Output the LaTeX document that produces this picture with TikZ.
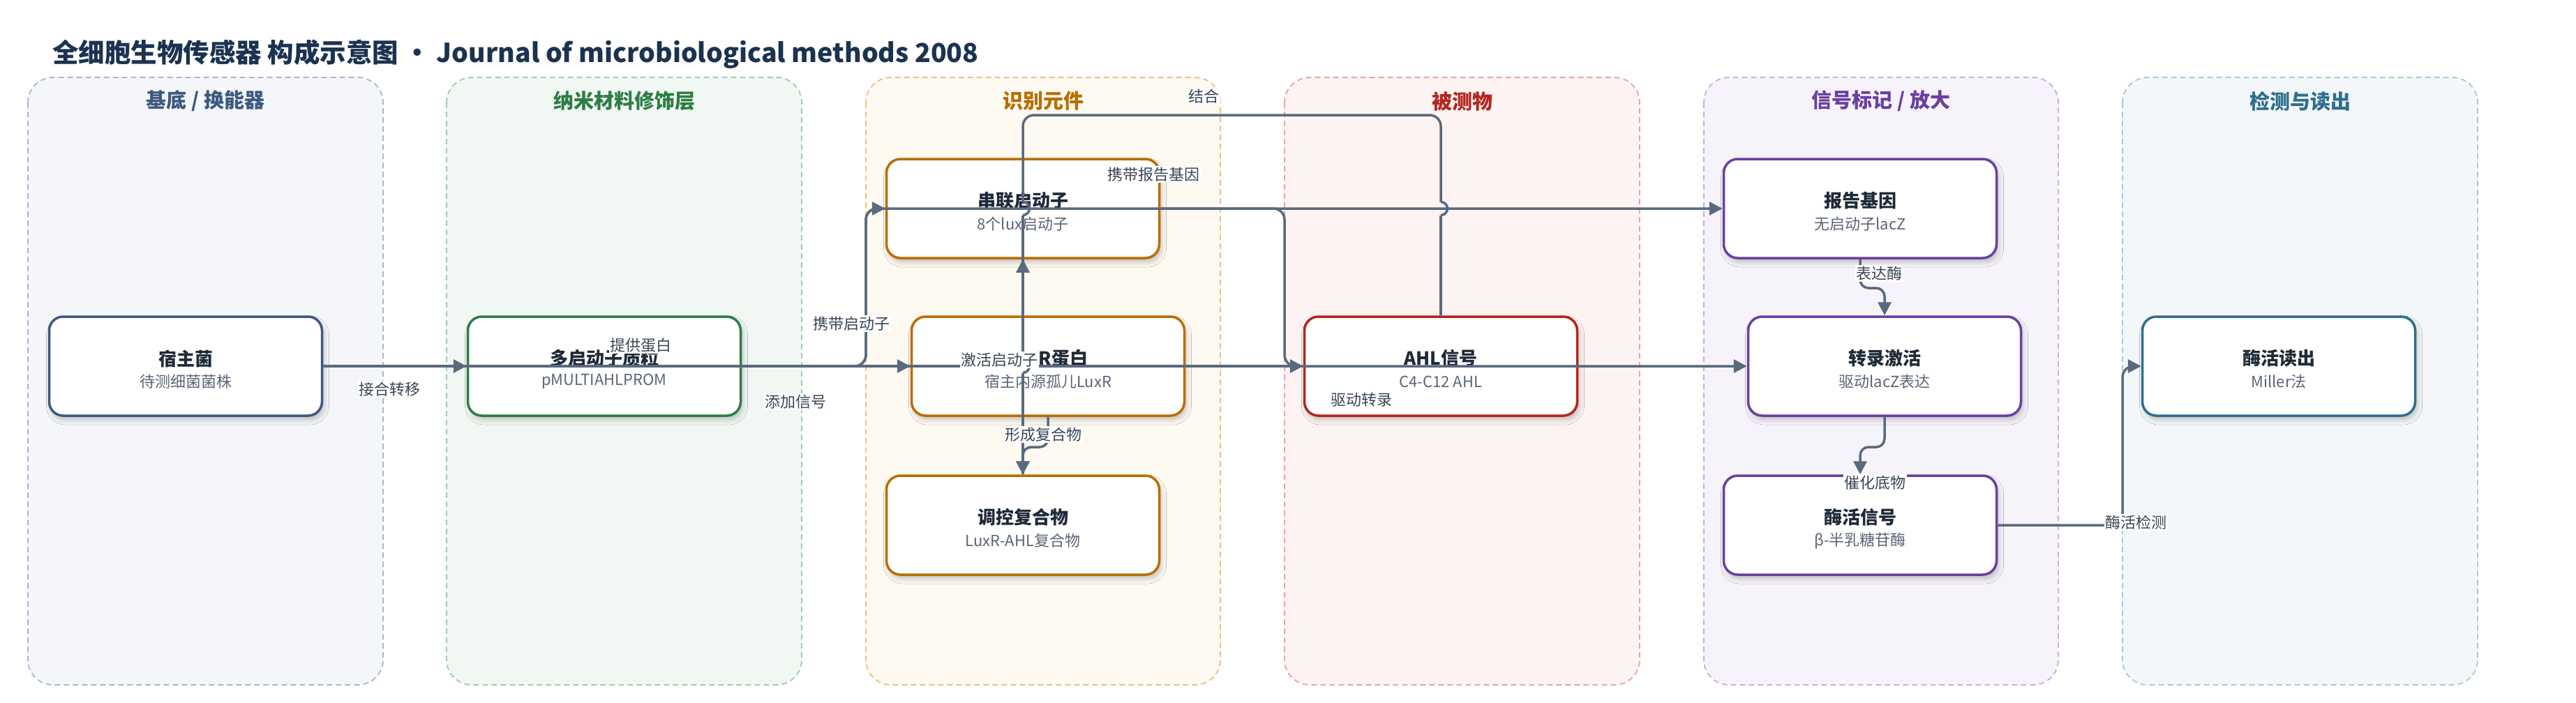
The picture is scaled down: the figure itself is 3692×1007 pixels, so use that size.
\documentclass[tikz,border=0pt]{standalone}
\usepackage{fontspec}
\setmainfont{Noto Sans CJK SC}
\usetikzlibrary{arrows.meta,shadows.blur,calc}

\definecolor{titleink}{HTML}{1B3350}
\definecolor{nodeink}{HTML}{1E2A38}
\definecolor{subink}{HTML}{5B6577}
\definecolor{labink}{HTML}{3A4556}
\definecolor{edgec}{HTML}{5A6A7E}
% lane fills / borders / accent
\definecolor{fA}{HTML}{F4F6FA}\definecolor{bA}{HTML}{A9B6CC}\definecolor{cA}{HTML}{3D5A80}
\definecolor{fB}{HTML}{F1F8F3}\definecolor{bB}{HTML}{9FCBAE}\definecolor{cB}{HTML}{2E7D46}
\definecolor{fC}{HTML}{FEF9F1}\definecolor{bC}{HTML}{EABF85}\definecolor{cC}{HTML}{B86E00}
\definecolor{fD}{HTML}{FDF3F3}\definecolor{bD}{HTML}{E9A3A3}\definecolor{cD}{HTML}{B3261E}
\definecolor{fE}{HTML}{F7F3FB}\definecolor{bE}{HTML}{C8AEE0}\definecolor{cE}{HTML}{6B3FA0}
\definecolor{fF}{HTML}{F3F7F9}\definecolor{bF}{HTML}{A9C8D6}\definecolor{cF}{HTML}{2E6F8E}

\newcommand\mkbox[7][0]{%
  \node[nodebox=#5] (#2) at (#3,#4) {};
  \node[ntitle] (#2T) at ($(#2.center)+(#1,-11)$) {#6};
  \node[nsub] (#2S) at ($(#2.center)+(0,22)$) {#7};
}

\begin{document}
\begin{tikzpicture}[x=1pt,y=-1pt,
  lanebox/.style 2 args={fill=#1, draw=#2, line width=1.8pt, dash pattern=on 8pt off 5pt, rounded corners=36pt},
  lanetitle/.style={font=\bfseries\fontsize{29}{34}\selectfont, text=#1, inner sep=0pt},
  nodebox/.style={draw=#1, fill=white, line width=3.5pt, rounded corners=20pt,
    minimum width=391pt, minimum height=142pt, inner sep=0pt,
    blur shadow={shadow xshift=3pt, shadow yshift=-6pt, shadow blur radius=7pt, shadow opacity=22}},
  ntitle/.style={font=\bfseries\fontsize{26}{30}\selectfont, text=nodeink, inner sep=0pt},
  nsub/.style={font=\fontsize{22}{26}\selectfont, text=subink, inner sep=0pt},
  edge/.style={draw=edgec, line width=3.5pt},
  arr/.style={edge, -{Triangle[length=19pt,width=19pt]}},
  elab/.style={fill=white, inner sep=1.5pt, font=\fontsize{22}{26}\selectfont, text=labink},
]
\fill[white] (0,0) rectangle (3692,1007);
\useasboundingbox (0,0) rectangle (3692,1007);

% title
\node[anchor=base west, inner sep=0pt, text=titleink, font=\bfseries\fontsize{37.5}{42}\selectfont] (title) at (75,89)
  {全细胞生物传感器 构成示意图 • Journal of microbiological methods 2008};

% lanes
\path[lanebox={fA}{bA}] (40,111) rectangle (549,982);
\path[lanebox={fB}{bB}] (640,111) rectangle (1149,982);
\path[lanebox={fC}{bC}] (1241,111) rectangle (1749,982);
\path[lanebox={fD}{bD}] (1841,111) rectangle (2350,982);
\path[lanebox={fE}{bE}] (2442,111) rectangle (2950,982);
\path[lanebox={fF}{bF}] (3042,111) rectangle (3551,982);

\node[lanetitle=cA] (L1) at (294.5,145) {基底 / 换能器};
\node[lanetitle=cB] (L2) at (894.5,145) {纳米材料修饰层};
\node[lanetitle=cC] (L3) at (1495,145) {识别元件};
\node[lanetitle=cD] (L4) at (2095.5,145) {被测物};
\node[lanetitle=cE] (L5) at (2696,145) {信号标记 / 放大};
\node[lanetitle=cF] (L6) at (3296.5,145) {检测与读出};

% nodes
\mkbox{host}{266}{525}{cA}{宿主菌}{待测细菌菌株}
\mkbox{plasmid}{866}{525}{cB}{多启动子质粒}{pMULTIAHLPROM}
\mkbox{tandem}{1466}{299}{cC}{串联启动子}{8个lux启动子}
\mkbox[22]{rprot}{1502}{525}{cC}{R蛋白}{宿主内源孤儿LuxR}
\mkbox{complex}{1466}{753}{cC}{调控复合物}{LuxR-AHL复合物}
\mkbox{ahl}{2065}{525}{cD}{AHL信号}{C4-C12 AHL}
\mkbox{reporter}{2666}{299}{cE}{报告基因}{无启动子lacZ}
\mkbox{transc}{2701}{525}{cE}{转录激活}{驱动lacZ表达}
\mkbox{enzyme}{2666}{753}{cE}{酶活信号}{β-半乳糖苷酶}
\mkbox{readout}{3266}{525}{cF}{酶活读出}{Miller法}

% edges
\draw[arr] (host.east) -- (plasmid.west);
\draw[arr] (host.east) -- (rprot.west);
\draw[arr] (host.east) -- (ahl.west);
\draw[arr, rounded corners=16pt] (plasmid.east) -- (1241,525) -- (1241,299) -- (tandem.west);
\draw[arr, rounded corners=16pt] (plasmid.east) -- (1241,525) -- (1241,299) -- (reporter.west);
\draw[arr, rounded corners=16pt] (tandem.east) -- (1841,299) -- (1841,525) -- (transc.west);

% binding: AHL -> complex, with line jumps
\draw[edge] (ahl.north) -- (2065,308.5);
\draw[edge] (2065,308.5) arc[start angle=-90, end angle=90, radius=9.5pt];
\draw[edge, rounded corners=16pt] (2065,289.5) -- (2065,165) -- (1466,165) -- (1466,289.5);
\draw[edge] (1466,289.5) arc[start angle=90, end angle=-90, radius=9.5pt];
\draw[edge] (1466,308.5) -- (1466,515.5);
\draw[edge] (1466,515.5) arc[start angle=90, end angle=-90, radius=9.5pt];
\draw[arr] (1466,534.5) -- (complex.north);

% activate promoter: complex -> tandem
\draw[edge] (complex.north) -- (1466,534.5);
\draw[arr] (1466,515.5) -- (tandem.south);

\draw[arr, rounded corners=12pt] (rprot.south) -- (1502,641) -- (1466,641) -- (complex.north);
\draw[arr, rounded corners=12pt] (reporter.south) -- (2666,413) -- (2701,413) -- (transc.north);
\draw[arr, rounded corners=12pt] (transc.south) -- (2701,641) -- (2666,641) -- (enzyme.north);
\draw[arr, rounded corners=16pt] (enzyme.east) -- (3042,753) -- (3042,525) -- (readout.west);

% edge labels
\node[elab] (e1) at (558,558) {接合转移};
\node[elab] (e2) at (918,495) {提供蛋白};
\node[elab] (e3) at (1140,576) {添加信号};
\node[elab] (e4) at (1220,464) {携带启动子};
\node[elab] (e5) at (1653,250) {携带报告基因};
\node[elab] (e6) at (1725,138) {结合};
\node[elab] (e7) at (1432,516) {激活启动子};
\node[elab] (e8) at (1495,623) {形成复合物};
\node[elab] (e9) at (1951,573) {驱动转录};
\node[elab] (e10) at (2693,392) {表达酶};
\node[elab] (e11) at (2687,692) {催化底物};
\node[elab] (e12) at (3061,749) {酶活检测};
\end{tikzpicture}
\end{document}
